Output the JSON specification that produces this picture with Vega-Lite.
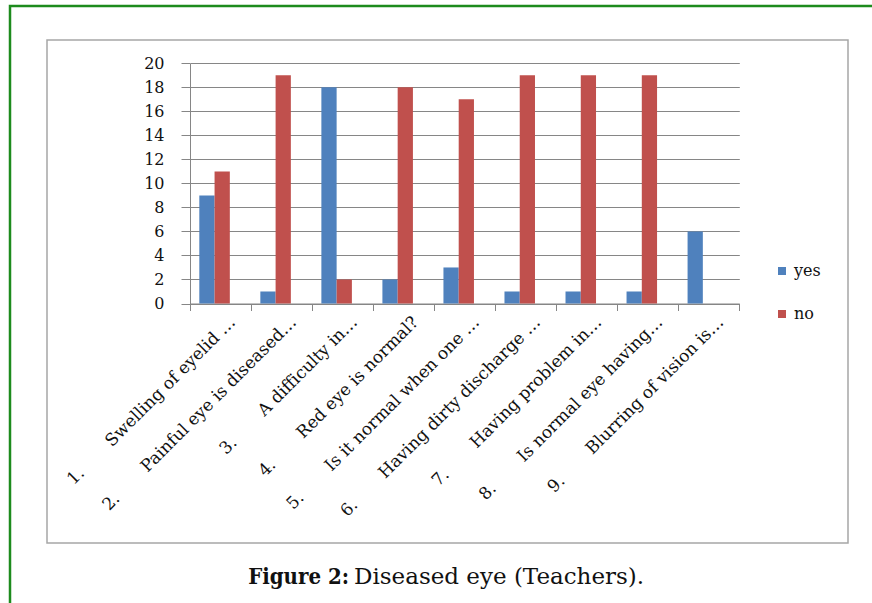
{
  "$schema": "https://vega.github.io/schema/vega-lite/v6.json",
  "width": 801,
  "height": 503,
  "autosize": {"type": "none"},
  "padding": {"left": 47, "top": 40, "right": 24, "bottom": 60},
  "background": "white",
  "config": {
    "view": {"stroke": "#a6a6a6", "strokeWidth": 1.5},
    "font": "DejaVu Serif"
  },
  "layer": [
    {
      "data": {
        "values": [
          {"item": "1.\u00a0\u00a0\u00a0\u00a0\u00a0\u00a0\u00a0Swelling of eyelid …", "answer": "yes", "count": 9},
          {"item": "1.\u00a0\u00a0\u00a0\u00a0\u00a0\u00a0\u00a0Swelling of eyelid …", "answer": "no", "count": 11},
          {"item": "2.\u00a0\u00a0\u00a0\u00a0\u00a0\u00a0\u00a0Painful eye is diseased…", "answer": "yes", "count": 1},
          {"item": "2.\u00a0\u00a0\u00a0\u00a0\u00a0\u00a0\u00a0Painful eye is diseased…", "answer": "no", "count": 19},
          {"item": "3.\u00a0\u00a0\u00a0\u00a0\u00a0\u00a0\u00a0A difficulty in…", "answer": "yes", "count": 18},
          {"item": "3.\u00a0\u00a0\u00a0\u00a0\u00a0\u00a0\u00a0A difficulty in…", "answer": "no", "count": 2},
          {"item": "4.\u00a0\u00a0\u00a0\u00a0\u00a0\u00a0\u00a0Red eye is normal?", "answer": "yes", "count": 2},
          {"item": "4.\u00a0\u00a0\u00a0\u00a0\u00a0\u00a0\u00a0Red eye is normal?", "answer": "no", "count": 18},
          {"item": "5.\u00a0\u00a0\u00a0\u00a0\u00a0\u00a0\u00a0Is it normal when one …", "answer": "yes", "count": 3},
          {"item": "5.\u00a0\u00a0\u00a0\u00a0\u00a0\u00a0\u00a0Is it normal when one …", "answer": "no", "count": 17},
          {"item": "6.\u00a0\u00a0\u00a0\u00a0\u00a0\u00a0\u00a0Having dirty discharge …", "answer": "yes", "count": 1},
          {"item": "6.\u00a0\u00a0\u00a0\u00a0\u00a0\u00a0\u00a0Having dirty discharge …", "answer": "no", "count": 19},
          {"item": "7.\u00a0\u00a0\u00a0\u00a0\u00a0\u00a0\u00a0Having problem in…", "answer": "yes", "count": 1},
          {"item": "7.\u00a0\u00a0\u00a0\u00a0\u00a0\u00a0\u00a0Having problem in…", "answer": "no", "count": 19},
          {"item": "8.\u00a0\u00a0\u00a0\u00a0\u00a0\u00a0\u00a0Is normal eye having…", "answer": "yes", "count": 1},
          {"item": "8.\u00a0\u00a0\u00a0\u00a0\u00a0\u00a0\u00a0Is normal eye having…", "answer": "no", "count": 19},
          {"item": "9.\u00a0\u00a0\u00a0\u00a0\u00a0\u00a0\u00a0Blurring of vision is…", "answer": "yes", "count": 6},
          {"item": "9.\u00a0\u00a0\u00a0\u00a0\u00a0\u00a0\u00a0Blurring of vision is…", "answer": "no", "count": 0}
        ]
      },
      "mark": {"type": "bar"},
      "encoding": {
        "x": {
          "field": "item",
          "type": "nominal",
          "sort": null,
          "scale": {"range": [143, 692.3], "paddingInner": 0, "paddingOuter": 0},
          "axis": {
            "orient": "bottom",
            "offset": -239.5,
            "title": null,
            "labelAngle": -45,
            "labelFont": "DejaVu Serif",
            "labelFontSize": 17,
            "labelColor": "#111111",
            "labelLimit": 0,
            "labelPadding": 3,
            "labelOffset": 6,
            "tickBand": "extent",
            "tickSize": 7,
            "tickColor": "#868686",
            "domainColor": "#868686",
            "grid": false
          }
        },
        "xOffset": {
          "field": "answer",
          "sort": ["yes", "no"],
          "scale": {"paddingInner": 0, "paddingOuter": 1.28, "align": 0.305}
        },
        "y": {
          "field": "count",
          "type": "quantitative",
          "scale": {"domain": [0, 20], "range": [263.5, 23.3], "nice": false},
          "axis": {
            "orient": "left",
            "offset": -143,
            "title": null,
            "values": [0, 2, 4, 6, 8, 10, 12, 14, 16, 18, 20],
            "grid": true,
            "gridColor": "#868686",
            "gridWidth": 1,
            "tickSize": 9,
            "tickColor": "#868686",
            "domainColor": "#868686",
            "labelFont": "DejaVu Serif",
            "labelFontSize": 16,
            "labelColor": "#111111",
            "labelPadding": 17
          }
        },
        "color": {
          "field": "answer",
          "type": "nominal",
          "scale": {"domain": ["yes", "no"], "range": ["#4F81BD", "#C0504D"]},
          "legend": {
            "title": null,
            "orient": "none",
            "legendX": 727,
            "legendY": 223,
            "symbolType": "square",
            "symbolSize": 64,
            "symbolStrokeWidth": 0,
            "labelFont": "DejaVu Serif",
            "labelFontSize": 16,
            "labelColor": "#111111",
            "rowPadding": 27,
            "padding": 0
          }
        }
      }
    },
    {
      "data": {"values": [{}]},
      "mark": {"type": "rect", "filled": false, "stroke": "#1d8b1d", "strokeWidth": 2.5},
      "encoding": {
        "x": {"datum": 0, "type": "quantitative", "scale": {"domain": [0, 1], "range": [-37, 853]}, "axis": null},
        "x2": {"datum": 1},
        "y": {"datum": 0, "type": "quantitative", "scale": {"domain": [0, 1], "range": [-34, 580]}, "axis": null},
        "y2": {"datum": 1}
      }
    },
    {
      "data": {"values": [{"caption": "Figure 2:"}]},
      "mark": {"type": "text", "font": "DejaVu Serif Condensed, DejaVu Serif", "fontSize": 22, "fontWeight": "bold", "align": "right", "baseline": "alphabetic", "dx": -2, "color": "#111111"},
      "encoding": {
        "text": {"field": "caption"},
        "x": {"datum": 0.3795, "type": "quantitative", "scale": {"domain": [0, 1], "range": [0, 801]}, "axis": null},
        "y": {"datum": 1.0815, "type": "quantitative", "scale": {"domain": [0, 1], "range": [0, 503]}, "axis": null}
      }
    },
    {
      "data": {"values": [{"caption": "Diseased eye (Teachers)."}]},
      "mark": {"type": "text", "font": "DejaVu Serif", "fontSize": 23, "align": "left", "baseline": "alphabetic", "dx": 3, "color": "#111111"},
      "encoding": {
        "text": {"field": "caption"},
        "x": {"datum": 0.3795, "type": "quantitative", "scale": {"domain": [0, 1], "range": [0, 801]}, "axis": null},
        "y": {"datum": 1.0815, "type": "quantitative", "scale": {"domain": [0, 1], "range": [0, 503]}, "axis": null}
      }
    }
  ],
  "resolve": {"scale": {"x": "independent", "y": "independent"}}
}
